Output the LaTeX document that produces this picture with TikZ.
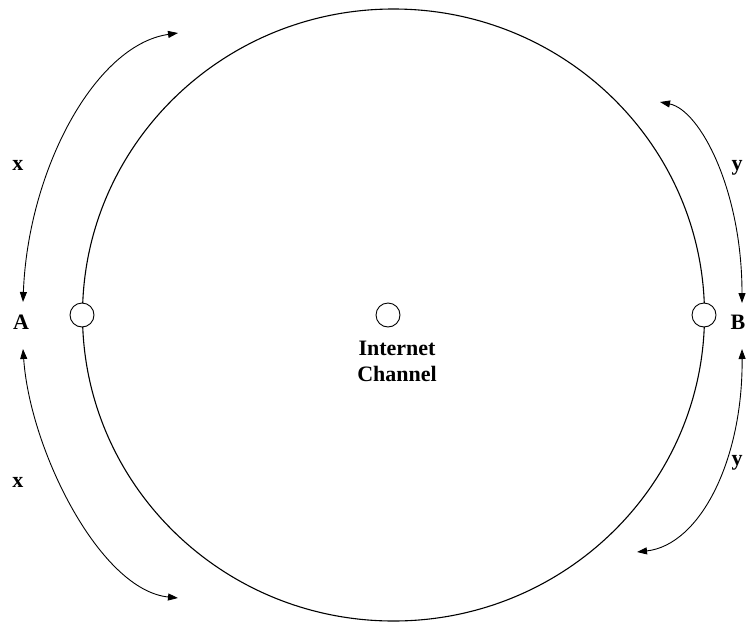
\documentclass[tikz,border=0pt]{standalone}
\usepackage{fontspec}
\setmainfont{Liberation Serif}
\usetikzlibrary{arrows.meta}
\tikzset{
  port/.style={circle,draw,fill=white,line width=0.9pt,minimum size=24pt,inner sep=0pt},
  lbl/.style={font=\fontsize{22}{26}\selectfont\bfseries,anchor=base,inner sep=0pt},
  darrow/.style={line width=0.9pt,{Triangle[length=10pt,width=7pt]}-{Triangle[length=10pt,width=7pt]}}
}
\begin{document}
\begin{tikzpicture}[x=1pt,y=-1pt]
\useasboundingbox (0,0) rectangle (746,624);
% big channel circle
\draw[line width=1.1pt] (393.5,315) ellipse [x radius=311pt, y radius=306pt];
% ports
\node[port] (pA) at (82,315) {};
\node[port] (pB) at (704,315) {};
\node[port] (pC) at (388,315) {};
% labels
\node[lbl] (lA) at (21,329) {A};
\node[lbl] (lB) at (738,329) {B};
\node[lbl,align=center,anchor=north] (lC) at (397,341) {Internet\\Channel};
\node[lbl] (x1) at (18,170) {x};
\node[lbl] (x2) at (18,487) {x};
\node[lbl] (y1) at (737,170) {y};
\node[lbl] (y2) at (737,465) {y};
% arrow end points
\coordinate (a1) at (23,302);
\coordinate (a2) at (178,33);
\coordinate (b1) at (23,349);
\coordinate (b2) at (178,598);
\coordinate (c1) at (660,102);
\coordinate (c2) at (742,303);
\coordinate (d1) at (742,349);
\coordinate (d2) at (637,552);
% arrows
\draw[darrow] (a1) .. controls (28,170) and (95,45) .. (a2);
\draw[darrow] (b1) .. controls (30,450) and (100,590) .. (b2);
\draw[darrow] (c1) .. controls (700,110) and (742,190) .. (c2);
\draw[darrow] (d1) .. controls (743,460) and (700,545) .. (d2);
\end{tikzpicture}
\end{document}
